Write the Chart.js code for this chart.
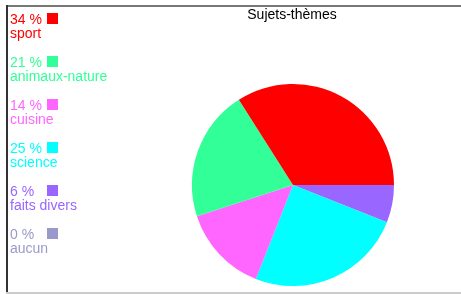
<!DOCTYPE html>
<html>
<head>
<meta charset="utf-8">
<script src="https://cdn.jsdelivr.net/npm/chart.js@4/dist/chart.umd.min.js"></script>
<style>
html,body{margin:0;padding:0;background:#fff;}
#wrap{position:relative;width:461px;height:294px;}
</style>
</head>
<body>
<div id="wrap"><canvas id="c" width="461" height="294"></canvas></div>
<script>
const title = "Sujets-thèmes";
const categories = ["sport", "animaux-nature", "cuisine", "science", "faits divers", "aucun"];
const percents = [34, 21, 14, 25, 6, 0];
const colors = ["#ff0000", "#33ff99", "#ff66ff", "#00ffff", "#9966ff", "#9999cc"];

const FONT = '14px "Liberation Sans", Arial, sans-serif';

const decor = {
  id: 'decor',
  beforeDraw(chart) {
    const ctx = chart.ctx;
    ctx.save();
    ctx.fillStyle = '#fff';
    ctx.fillRect(0, 0, chart.width, chart.height);
    // frame
    ctx.fillStyle = '#777';
    ctx.fillRect(6, 5, 455, 2);
    ctx.fillStyle = '#333';
    ctx.fillRect(6, 5, 2, 288);
    ctx.fillStyle = '#cccccc';
    ctx.fillRect(6, 292, 455, 2);
    ctx.restore();
  },
  afterDraw(chart) {
    const ctx = chart.ctx;
    ctx.save();
    ctx.font = FONT;
    ctx.textBaseline = 'alphabetic';
    // title
    ctx.fillStyle = '#000';
    ctx.textAlign = 'center';
    ctx.fillText(title, 292, 19);
    // legend
    ctx.textAlign = 'left';
    categories.forEach((cat, i) => {
      const b = 24 + 43 * i;
      ctx.fillStyle = colors[i];
      ctx.fillText(percents[i] + ' %', 10, b);
      ctx.fillRect(47, b - 11, 11, 11);
      ctx.fillText(cat, 10, b + 14);
    });
    ctx.restore();
  }
};

new Chart(document.getElementById('c'), {
  type: 'pie',
  data: {
    labels: categories.slice().reverse(),
    datasets: [{
      data: percents.slice().reverse(),
      backgroundColor: colors.slice().reverse(),
      borderWidth: 0
    }]
  },
  options: {
    responsive: false,
    animation: false,
    rotation: 90,
    layout: { padding: { left: 192, right: 67, top: 84, bottom: 8 } },
    plugins: {
      legend: { display: false },
      title: { display: false },
      tooltip: { enabled: false }
    }
  },
  plugins: [decor]
});
</script>
</body>
</html>
